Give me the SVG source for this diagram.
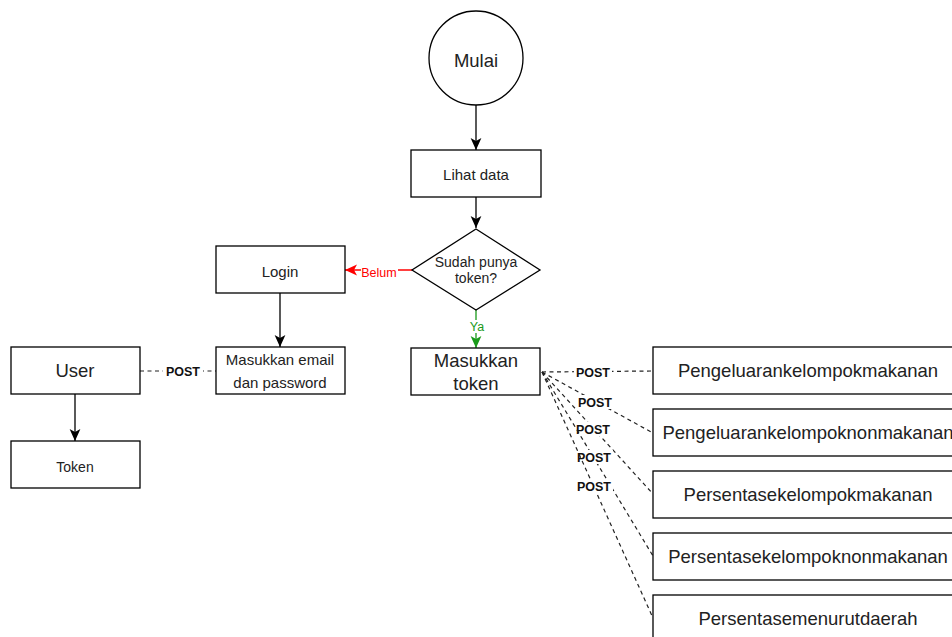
<svg xmlns="http://www.w3.org/2000/svg" width="952" height="637" viewBox="0 0 952 637">
<defs>
<style>
.box{fill:#fff;stroke:#000;stroke-width:1.3}
.t{font-family:"Liberation Sans",Arial,sans-serif;fill:#222;text-anchor:middle}
.big{font-size:18.5px}
.mid{font-size:15px}
.sm{font-size:14px}
.lbl{font-family:"Liberation Sans",Arial,sans-serif;font-size:12.5px;text-anchor:middle}
.post{font-weight:bold;fill:#111}
.edge{fill:none;stroke:#000;stroke-width:1.3}
.dash{fill:none;stroke:#222;stroke-width:1.2;stroke-dasharray:4 3.5}
</style>
<marker id="ab" markerUnits="userSpaceOnUse" markerWidth="12" markerHeight="12" viewBox="0 0 10 9" refX="10" refY="4.5" orient="auto"><path d="M0,0 L10,4.5 L0,9 L2.5,4.5 z" fill="#000"/></marker>
<marker id="ar" markerUnits="userSpaceOnUse" markerWidth="12" markerHeight="12" viewBox="0 0 10 9" refX="10" refY="4.5" orient="auto"><path d="M0,0 L10,4.5 L0,9 L2.5,4.5 z" fill="#ff0000"/></marker>
<marker id="ag" markerUnits="userSpaceOnUse" markerWidth="12" markerHeight="12" viewBox="0 0 10 9" refX="10" refY="4.5" orient="auto"><path d="M0,0 L10,4.5 L0,9 L2.5,4.5 z" fill="#1a9a1a"/></marker>
</defs>
<rect width="952" height="637" fill="#fff"/>

<g id="connectors">
<line class="edge" x1="476" y1="105" x2="476" y2="150" marker-end="url(#ab)"/>
<line class="edge" x1="476" y1="197" x2="476" y2="228" marker-end="url(#ab)"/>
<line class="edge" x1="280" y1="293" x2="280" y2="347" marker-end="url(#ab)"/>
<line class="edge" x1="75" y1="394" x2="75" y2="441" marker-end="url(#ab)"/>
<line fill="none" stroke="#ff0000" stroke-width="1.3" x1="412" y1="270" x2="345" y2="270" marker-end="url(#ar)"/>
<rect x="361" y="263" width="37" height="14" fill="#fff"/>
<text class="lbl" x="379" y="277" fill="#ff0000">Belum</text>
<line fill="none" stroke="#1a9a1a" stroke-width="1.3" x1="476" y1="310" x2="476" y2="348" marker-end="url(#ag)"/>
<rect x="468" y="320" width="16" height="13" fill="#fff"/>
<text class="lbl" x="477" y="331" fill="#1a9a1a">Ya</text>
<line class="dash" x1="140" y1="371" x2="216" y2="371"/>
<rect x="163" y="364" width="40" height="14" fill="#fff"/>
<text class="lbl post" x="183" y="376">POST</text>

<line class="dash" x1="542" y1="372" x2="653" y2="371"/>
<rect x="574" y="365" width="38" height="14" fill="#fff"/>
<text class="lbl post" x="593" y="377">POST</text>
<line class="dash" x1="542" y1="372" x2="653" y2="433"/>
<rect x="576" y="395" width="38" height="14" fill="#fff"/>
<text class="lbl post" x="595" y="407">POST</text>
<line class="dash" x1="542" y1="372" x2="653" y2="494"/>
<rect x="574" y="422" width="38" height="14" fill="#fff"/>
<text class="lbl post" x="593" y="434">POST</text>
<line class="dash" x1="542" y1="372" x2="653" y2="556"/>
<rect x="575" y="450" width="38" height="14" fill="#fff"/>
<text class="lbl post" x="594" y="462">POST</text>
<line class="dash" x1="542" y1="372" x2="653" y2="618"/>
<rect x="575" y="479" width="38" height="14" fill="#fff"/>
<text class="lbl post" x="594" y="491">POST</text>
</g>

<g id="mulai">
<circle cx="476" cy="58" r="47" fill="#fff" stroke="#000" stroke-width="1.3"/>
<text class="t big" x="476" y="67">Mulai</text>
</g>
<g id="lihat-data">
<rect class="box" x="411" y="150" width="130" height="47"/>
<text class="t mid" x="476" y="180">Lihat data</text>
</g>
<g id="sudah-punya-token">
<polygon class="box" points="476,229 540,270 476,310 412,270"/>
<text class="t sm" x="476" y="267">Sudah punya</text>
<text class="t sm" x="476" y="283">token?</text>
</g>
<g id="login">
<rect class="box" x="216" y="246" width="129" height="47"/>
<text class="t mid" x="280" y="277">Login</text>
</g>
<g id="masukkan-email">
<rect class="box" x="216" y="347" width="129" height="47"/>
<text class="t mid" x="280" y="365">Masukkan email</text>
<text class="t mid" x="280" y="388">dan password</text>
</g>
<g id="user">
<rect class="box" x="11" y="347" width="129" height="47"/>
<text class="t big" x="75" y="377">User</text>
</g>
<g id="token">
<rect class="box" x="11" y="441" width="129" height="47"/>
<text class="t sm" x="75" y="472">Token</text>
</g>
<g id="masukkan-token">
<rect class="box" x="411" y="348" width="129" height="47"/>
<text class="t big" x="476" y="367">Masukkan</text>
<text class="t big" x="476" y="390">token</text>
</g>
<g id="pengeluaran-makanan">
<rect class="box" x="653" y="347" width="310" height="47"/>
<text class="t big" x="808" y="377">Pengeluarankelompokmakanan</text>
</g>
<g id="pengeluaran-nonmakanan">
<rect class="box" x="653" y="409" width="310" height="47"/>
<text class="t big" x="808" y="439">Pengeluarankelompoknonmakanan</text>
</g>
<g id="persentase-makanan">
<rect class="box" x="653" y="471" width="310" height="47"/>
<text class="t big" x="808" y="501">Persentasekelompokmakanan</text>
</g>
<g id="persentase-nonmakanan">
<rect class="box" x="653" y="533" width="310" height="47"/>
<text class="t big" x="808" y="563">Persentasekelompoknonmakanan</text>
</g>
<g id="persentase-daerah">
<rect class="box" x="653" y="595" width="310" height="47"/>
<text class="t big" x="808" y="625">Persentasemenurutdaerah</text>
</g>
</svg>
